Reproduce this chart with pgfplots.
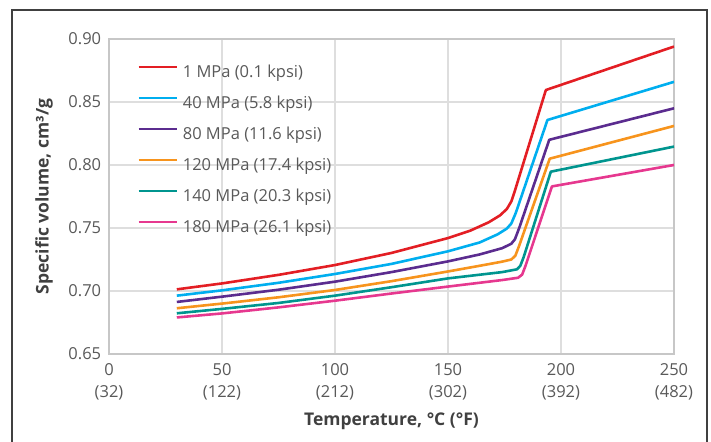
\documentclass[border=0pt]{standalone}
\usepackage{pgfplots}
\pgfplotsset{compat=1.18}
\usepackage{fontspec}
\setmainfont{Open Sans}
\definecolor{cRed}{HTML}{E31E24}
\definecolor{cCyan}{HTML}{00AEEF}
\definecolor{cPurple}{HTML}{5B2C8F}
\definecolor{cOrange}{HTML}{F7941D}
\definecolor{cTeal}{HTML}{00958F}
\definecolor{cPink}{HTML}{E6388F}
\definecolor{tickgray}{HTML}{595959}
\definecolor{labgray}{HTML}{404040}
\begin{document}
\fontsize{17bp}{20bp}\selectfont
\begin{tikzpicture}[x=1bp,y=1bp]
\useasboundingbox (0,0) rectangle (711,442);
\draw[line width=1.3bp, black!75] (12,-5) -- (12,432) -- (707,432) -- (707,-5);
\begin{axis}[
  at={(109bp,88bp)}, anchor=south west,
  scale only axis, width=565bp, height=315bp,
  xmin=0, xmax=250, ymin=0.65, ymax=0.90,
  xtick={0,50,100,150,200,250},
  xticklabels={{0\\(32)},{50\\(122)},{100\\(212)},{150\\(302)},{200\\(392)},{250\\(482)}},
  xticklabel style={align=center, text=tickgray, font=\fontsize{16.5bp}{22bp}\selectfont, yshift=-4bp},
  ytick={0.65,0.70,0.75,0.80,0.85,0.90},
  yticklabel style={text=tickgray, font=\fontsize{16.5bp}{20bp}\selectfont, xshift=-2bp,
    /pgf/number format/.cd, fixed, fixed zerofill, precision=2, assume math mode=true},
  major tick length=0pt,
  grid=major,
  major grid style={draw=black!13, line width=1.2bp},
  axis line style={draw=black!22, line width=1.6bp},
  xlabel={Temperature, °C (°F)},
  ylabel={Specific volume, cm³/g},
  label style={font=\bfseries\fontsize{17.5bp}{20bp}\selectfont, text=labgray},
  xlabel style={at={(axis description cs:0.5,-0.2127)}, anchor=center},
  ylabel style={at={(axis description cs:-0.115,0.5)}, anchor=center},
  legend cell align=left,
  legend style={draw=none, fill=none, at={(axis description cs:0.0496,0.9210)}, anchor=north west,
    inner sep=0pt, row sep=14bp, column sep=5bp,
    nodes={inner sep=0pt, text height=13bp, text depth=4bp, text=tickgray, font=\fontsize{16.5bp}{20bp}\selectfont}},
  legend image code/.code={\draw[#1] (0bp,5.5bp) -- (38bp,5.5bp);},
  every axis plot/.append style={line width=2.6bp, line join=round},
]
\addplot[cRed] coordinates {(30,0.7013)(50,0.7060)(75,0.7128)(100,0.7206)(125,0.7302)(150,0.7420)(160,0.7480)(168,0.7545)(173,0.7600)(176,0.7650)(178,0.7710)(179.5,0.7790)(193.3,0.8595)(250,0.8940)};
\addlegendentry{1 MPa (0.1 kpsi)}
\addplot[cCyan] coordinates {(30,0.6963)(50,0.7005)(75,0.7065)(100,0.7135)(125,0.7215)(150,0.7315)(164,0.7385)(172,0.7450)(176,0.7495)(178,0.7535)(180,0.7620)(194,0.8357)(250,0.8660)};
\addlegendentry{40 MPa (5.8 kpsi)}
\addplot[cPurple] coordinates {(30,0.6913)(50,0.6955)(75,0.7010)(100,0.7074)(125,0.7150)(150,0.7235)(164,0.7290)(174,0.7340)(178,0.7375)(179.6,0.7410)(181.5,0.7500)(194.8,0.8200)(250,0.8450)};
\addlegendentry{80 MPa (11.6 kpsi)}
\addplot[cOrange] coordinates {(30,0.6863)(50,0.6900)(75,0.6950)(100,0.7008)(125,0.7078)(150,0.7155)(164,0.7200)(174,0.7233)(178,0.7250)(179.8,0.7280)(181.5,0.7360)(195,0.8050)(250,0.8310)};
\addlegendentry{120 MPa (17.4 kpsi)}
\addplot[cTeal] coordinates {(30,0.6823)(50,0.6858)(75,0.6905)(100,0.6963)(125,0.7030)(150,0.7100)(174,0.7150)(180.5,0.7172)(182,0.7200)(183.5,0.7270)(195.5,0.7947)(250,0.8146)};
\addlegendentry{140 MPa (20.3 kpsi)}
\addplot[cPink] coordinates {(30,0.6790)(50,0.6822)(75,0.6870)(100,0.6923)(125,0.6980)(150,0.7035)(174,0.7087)(181,0.7105)(182.8,0.7130)(184.3,0.7200)(196,0.7830)(250,0.8000)};
\addlegendentry{180 MPa (26.1 kpsi)}
\end{axis}
\end{tikzpicture}
\end{document}
